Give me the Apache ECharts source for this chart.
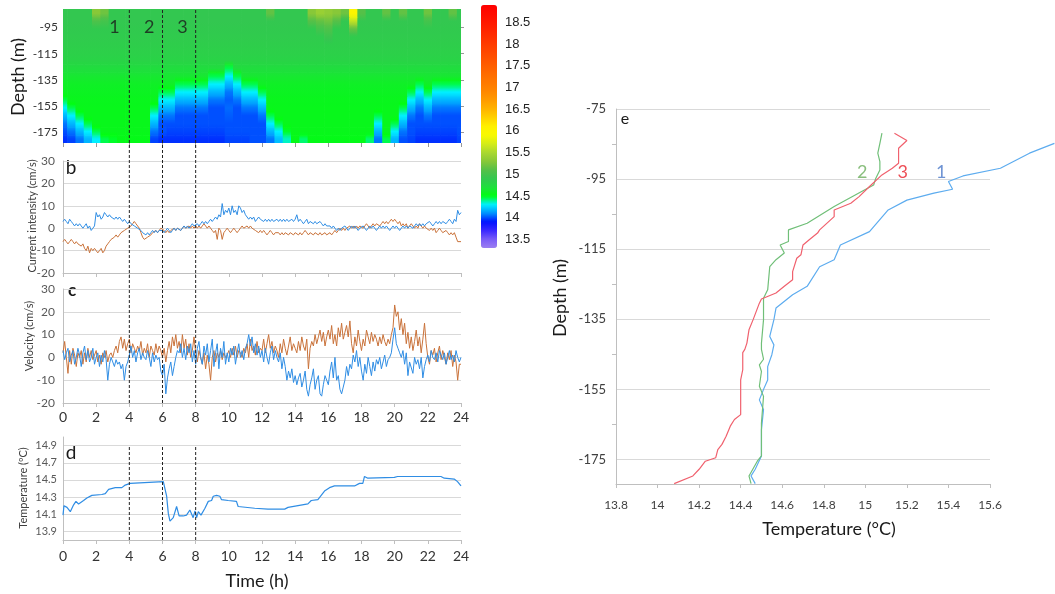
<!DOCTYPE html>
<html><head><meta charset="utf-8">
<script src="https://cdn.jsdelivr.net/npm/echarts@6/dist/echarts.min.js"></script>
<style>html,body{margin:0;padding:0;background:#fff}#c{width:1055px;height:594px}</style>
</head><body><div id="c"></div>
<script>
// ---------- Panel a: temperature section (heatmap) ----------
const heatTimes = [0,0.5,1,1.5,2,2.5,3,3.5,4,4.5,5,5.5,6,6.5,7,7.5,8,8.5,9,9.5,10,10.5,11,11.5,12,12.5,13,13.5,14,14.5,15,15.5,16,16.5,17,17.5,18,18.5,19,19.5,20,20.5,21,21.5,22,22.5,23,23.5,24];
const heatDepths = [-180,-174,-168,-162,-156,-150,-144,-138,-132,-126,-120,-114,-108,-102,-96,-90,-84];
const heatTemp = [
 [13.95,13.98,14.06,14.18,14.3,14.45,14.48,14.53,14.53,14.53, 14.53,13.98,13.95,13.95,13.95,13.95,13.95,13.95,13.95,13.95, 13.98,13.98,13.98,14.0,14.0,14.06,14.2,14.35,14.53,14.42, 14.53,14.53,14.53,14.53,14.53,14.53,14.53,14.42,14.06,14.45, 14.18,14.0,13.98,13.95,13.95,13.95,13.95,13.95,13.98],
 [14.0,14.06,14.18,14.3,14.45,14.55,14.55,14.55,14.55,14.55, 14.55,14.06,14.0,13.98,13.98,13.98,13.98,13.98,13.98,13.98, 14.0,14.0,14.0,14.0,14.0,14.18,14.3,14.48,14.55,14.55, 14.55,14.55,14.55,14.55,14.55,14.55,14.55,14.55,14.18,14.55, 14.3,14.06,14.0,13.98,13.98,13.98,13.98,13.98,14.0],
 [14.06,14.18,14.3,14.45,14.55,14.55,14.55,14.55,14.55,14.55, 14.55,14.18,14.0,14.0,14.0,14.0,14.0,14.0,14.0,14.0, 14.0,14.0,14.0,14.0,14.0,14.3,14.45,14.55,14.55,14.55, 14.55,14.55,14.55,14.55,14.55,14.55,14.55,14.55,14.3,14.55, 14.45,14.18,14.0,14.0,14.0,14.0,14.0,14.0,14.0],
 [14.18,14.3,14.45,14.55,14.55,14.55,14.55,14.55,14.55,14.55, 14.55,14.3,14.06,14.06,14.0,14.0,14.0,14.0,14.0,14.0, 14.02,14.0,14.0,14.0,14.06,14.45,14.55,14.55,14.55,14.55, 14.55,14.55,14.55,14.55,14.55,14.55,14.55,14.55,14.45,14.55, 14.55,14.3,14.06,14.0,14.06,14.0,14.0,14.0,14.0],
 [14.3,14.45,14.55,14.55,14.55,14.55,14.55,14.55,14.55,14.55, 14.55,14.45,14.18,14.18,14.06,14.06,14.06,14.06,14.0,14.0, 14.04,14.0,14.06,14.06,14.18,14.55,14.55,14.55,14.55,14.55, 14.55,14.55,14.55,14.55,14.55,14.55,14.55,14.55,14.55,14.55, 14.55,14.45,14.18,14.06,14.18,14.06,14.06,14.06,14.06],
 [14.45,14.56,14.56,14.56,14.56,14.56,14.56,14.56,14.56,14.56, 14.56,14.56,14.3,14.3,14.18,14.18,14.18,14.18,14.06,14.06, 14.02,14.06,14.18,14.18,14.3,14.56,14.56,14.56,14.56,14.56, 14.56,14.56,14.56,14.56,14.56,14.56,14.56,14.56,14.56,14.56, 14.56,14.56,14.3,14.18,14.3,14.18,14.18,14.18,14.18],
 [14.58,14.58,14.58,14.58,14.58,14.58,14.58,14.58,14.58,14.58, 14.58,14.58,14.45,14.45,14.3,14.3,14.3,14.3,14.18,14.18, 14.06,14.18,14.3,14.3,14.45,14.58,14.58,14.58,14.58,14.58, 14.58,14.58,14.58,14.58,14.58,14.58,14.58,14.58,14.58,14.58, 14.58,14.58,14.45,14.3,14.45,14.3,14.3,14.3,14.3],
 [14.6,14.6,14.6,14.6,14.6,14.6,14.6,14.6,14.6,14.6, 14.6,14.6,14.6,14.6,14.45,14.45,14.45,14.45,14.3,14.3, 14.18,14.3,14.45,14.45,14.6,14.6,14.6,14.6,14.6,14.6, 14.6,14.6,14.6,14.6,14.6,14.6,14.6,14.6,14.6,14.6, 14.6,14.6,14.6,14.45,14.6,14.45,14.45,14.45,14.45],
 [14.65,14.65,14.65,14.65,14.65,14.65,14.65,14.65,14.65,14.65, 14.65,14.65,14.65,14.65,14.65,14.65,14.65,14.65,14.45,14.45, 14.3,14.45,14.65,14.65,14.65,14.65,14.65,14.65,14.65,14.65, 14.65,14.65,14.65,14.65,14.65,14.65,14.65,14.65,14.65,14.65, 14.65,14.65,14.65,14.65,14.65,14.65,14.65,14.65,14.65],
 [14.72,14.72,14.72,14.72,14.72,14.72,14.72,14.72,14.72,14.72, 14.72,14.72,14.72,14.72,14.72,14.72,14.72,14.72,14.72,14.72, 14.45,14.72,14.72,14.72,14.72,14.72,14.72,14.72,14.72,14.72, 14.72,14.72,14.72,14.72,14.72,14.72,14.72,14.72,14.72,14.72, 14.72,14.72,14.72,14.72,14.72,14.72,14.72,14.72,14.72],
 [14.8,14.8,14.8,14.8,14.8,14.8,14.8,14.8,14.8,14.8, 14.8,14.8,14.8,14.8,14.8,14.8,14.8,14.8,14.8,14.8, 14.8,14.8,14.8,14.8,14.8,14.8,14.8,14.8,14.8,14.8, 14.8,14.8,14.8,14.8,14.8,14.8,14.8,14.8,14.8,14.8, 14.8,14.8,14.8,14.8,14.8,14.8,14.8,14.8,14.8],
 [14.83,14.83,14.83,14.83,14.83,14.83,14.83,14.83,14.83,14.83, 14.83,14.83,14.83,14.83,14.83,14.83,14.83,14.83,14.83,14.83, 14.83,14.83,14.83,14.83,14.83,14.83,14.83,14.83,14.83,14.83, 14.83,14.83,14.83,14.83,14.83,14.83,14.83,14.83,14.83,14.83, 14.83,14.83,14.83,14.83,14.83,14.83,14.83,14.83,14.83],
 [14.85,14.85,14.85,14.85,14.85,14.85,14.85,14.85,14.85,14.85, 14.85,14.85,14.85,14.85,14.85,14.85,14.85,14.85,14.85,14.85, 14.85,14.85,14.85,14.85,14.85,14.85,14.85,14.85,14.85,14.85, 14.85,14.85,14.85,14.85,14.85,14.85,14.85,14.85,14.85,14.85, 14.85,14.85,14.85,14.85,14.85,14.85,14.85,14.85,14.85],
 [14.87,14.87,14.87,14.87,14.87,14.87,14.87,14.87,14.87,14.87, 14.87,14.87,14.87,14.87,14.87,14.87,14.87,14.87,14.87,14.87, 14.87,14.87,14.87,14.87,14.87,14.87,14.87,14.87,14.87,14.87, 14.87,14.87,14.95,14.87,14.87,14.87,14.87,14.87,14.87,14.87, 14.87,14.87,14.87,14.87,14.87,14.87,14.87,14.87,14.87],
 [14.88,14.88,14.88,14.88,14.88,14.88,14.88,14.88,14.88,14.88, 14.88,14.88,14.88,14.88,14.88,14.88,14.88,14.88,14.88,14.88, 14.88,14.88,14.88,14.88,14.88,14.88,14.88,14.88,14.88,14.88, 14.88,15.0,15.05,14.88,14.88,15.15,14.88,14.88,14.88,14.88, 14.88,14.88,14.88,14.88,14.88,14.88,14.88,14.88,14.88],
 [14.9,14.9,14.9,14.9,15.05,15.0,14.9,14.9,14.9,14.9, 14.9,14.9,14.9,14.9,14.9,14.9,14.9,14.9,14.9,14.9, 14.9,14.9,14.9,14.9,14.9,14.9,14.9,14.9,14.9,14.9, 15.1,15.15,15.2,15.1,14.9,15.6,14.9,14.9,14.9,14.9, 14.9,14.9,14.9,14.9,15.0,14.9,14.9,14.9,14.9],
 [14.9,14.9,14.9,14.9,15.3,15.2,14.9,14.9,14.9,14.9, 14.9,14.9,14.9,14.9,14.9,14.9,14.9,14.9,14.9,14.9, 14.9,14.9,14.9,14.9,14.9,15.15,14.9,14.9,14.9,14.9, 15.3,15.4,15.35,15.3,15.2,16.0,15.1,14.9,14.9,15.15, 14.9,15.15,14.9,14.9,15.2,14.9,14.9,15.15,14.9]
];
const colorbarTicks = [13.5,14,14.5,15,15.5,16,16.5,17,17.5,18,18.5];
const depthTicksA = [-175,-155,-135,-115,-95];
const sectionLabelTimes = [3.1,5.2,7.2];
const sectionLabelDepth = [-94.5,-94.5,-94.5];
const sectionLabelText = ['1','2','3'];
const dashTimes = [4,6,8];

// ---------- Panels b, c: sampled every 0.1 h ----------
const sampleStep = 0.1;
const bBlue = [3,4,3,2,4,3,2,1,2,1, 2,1,0,1,2,0,1,-1,0,1, 7,5,6,4,5,7,6,5,6,5, 5,4,5,4,5,4,3,4,3,2,
 3,2,2,1,1,0,0,-1,-2,-2, -3,-2,-3,-2,-1,-2,-1,-2,-1,-1, -1,-2,-1,0,-1,-2,-1,0,-1,0, 0,-1,0,1,0,1,0,1,2,1,
 1,2,1,2,3,2,3,2,3,4, 3,4,5,4,6,5,11,6,8,7, 9,6,10,7,8,6,10,9,7,8, 6,5,4,5,4,5,3,4,5,4,
 4,3,4,3,4,3,4,3,3,4, 3,4,3,4,3,4,3,3,4,3, 4,6,3,4,3,2,3,4,2,3, 3,2,3,2,2,3,2,1,2,1,
 1,1,0,1,0,-1,0,-1,0,0, 1,0,-1,0,1,0,1,0,-1,0, 0,1,0,-1,0,1,0,1,0,-1, 0,1,0,1,0,1,0,-1,0,1,
 0,1,0,-1,0,1,0,1,0,1, 1,0,1,2,1,2,1,2,1,2, 2,3,2,1,2,3,2,3,2,3, 3,2,3,4,3,2,4,3,8,6, 7];
const bOrange = [-6,-5,-6,-7,-6,-5,-6,-7,-6,-7, -7,-8,-7,-9,-10,-8,-11,-9,-10,-9, -10,-11,-10,-9,-11,-10,-8,-7,-6,-5, -5,-4,-3,-4,-3,-2,-2,-1,-1,0,
 0,1,2,3,2,1,0,-2,-4,-5, -5,-4,-4,-3,-2,-2,-1,-2,-1,0, 0,-1,-2,-1,-2,-1,-1,0,-1,0, 0,-1,0,1,0,0,1,0,1,0,
 1,0,1,0,1,2,1,0,1,0, -1,-2,-1,-5,0,-1,-5,-2,-1,0, -1,-2,-1,0,-1,-2,-1,0,1,0, 0,1,0,1,0,0,-1,-1,-2,-1,
 -2,-1,-2,-3,-2,-1,-2,-3,-2,-2, -2,-3,-2,-3,-2,-2,-3,-2,-2,-3, -2,-2,-3,-2,-3,-2,-1,-2,-3,-2, -2,-3,-2,-2,-3,-2,-3,-3,-2,-3,
 -3,-2,-3,-2,-1,-2,-1,0,-1,0, -1,0,0,1,0,1,0,1,0,1, 1,0,1,2,1,0,1,2,1,2, 2,1,2,3,2,3,2,3,4,3,
 4,3,2,3,1,2,1,2,0,1, 2,1,0,1,0,2,1,0,1,0, 0,-1,0,-1,0,-2,-1,0,-1,-2, -2,-1,-2,-3,-2,-3,-2,-4,-6,-6, -6];
const cBlue = [3,-1,2,4,-2,1,3,-3,0,4, 1,-4,2,5,-1,3,-2,0,4,-3, 0,2,-4,1,-2,3,-1,-10,-3,0, -2,-4,-1,-3,-2,-5,-3,-10,-4,-2,
 1,5,0,3,-2,2,4,-1,2,0, -1,3,0,-4,2,-2,1,-1,0,-6, -8,-3,-16,-9,-5,-2,-8,-4,0,3, 2,6,0,4,-1,5,2,6,-2,3,
 -3,4,7,0,-3,5,1,6,-2,3, 8,-4,2,6,-5,4,0,7,-3,2, -2,4,1,5,-3,2,6,0,3,-1, 4,6,10,5,9,2,6,1,5,0,
 3,-2,4,0,-3,2,5,-1,3,0, -2,2,-5,0,-4,-10,-6,-9,-5,-11, -8,-12,-9,-7,-13,-10,-6,-14,-17,-12, -9,-5,-14,-10,-8,-16,-17,-12,-8,-10,
 -12,-6,-2,-9,0,-10,-8,-14,-16,-13, -10,-4,-8,-3,-5,1,-2,3,-4,0, -6,-10,-3,-7,0,-4,-8,-2,-6,-1, -3,0,-5,-2,1,-4,-1,0,2,8,
 13,6,4,2,0,3,-3,2,-8,-2, -2,-7,0,-3,-1,-5,0,-9,-4,-1, 1,-2,3,0,-1,2,-2,3,1,-1, 2,-3,0,3,-1,1,-2,3,0,-2, 0];
const cOrange = [2,7,0,-7,3,-3,4,1,-4,2, 0,3,-3,2,-2,4,0,3,-1,1, 3,-2,1,-3,2,0,3,-2,1,2, 0,3,5,2,7,9,4,8,3,6,
 8,2,6,4,2,5,3,7,1,4, 2,6,0,5,3,1,6,2,5,3, 0,4,-2,3,7,2,9,5,10,4, 7,2,10,4,8,1,6,0,3,9,
 2,-2,3,0,-3,2,-5,1,-3,-10, 0,3,-2,2,0,3,-1,2,0,1, 3,0,4,1,5,0,3,2,0,4, 2,6,0,8,3,5,1,7,2,4,
 3,8,2,6,10,4,7,2,5,3, 0,6,2,8,4,1,5,9,3,6, 4,2,7,3,9,5,3,8,-5,4, 7,5,10,6,9,12,7,11,5,9,
 12,8,14,6,10,5,13,9,15,8, 11,14,9,16,6,2,9,5,12,7, 3,8,5,12,9,6,11,7,10,8, 5,9,6,10,7,5,8,6,10,13,
 23,18,20,12,17,10,15,6,11,4, 9,3,7,12,5,9,2,8,15,6, 0,-3,3,1,4,-2,2,5,-1,3, 0,-3,2,-1,3,-4,1,-2,-10,-3, -3];

// ---------- Panel d: temperature time series ----------
const dTime = [0,0.06,0.24,0.44,0.64,0.78,0.94,1.24,1.44,1.74,2.34,2.55,2.75,3.15,3.55,3.75,4.05,4.15,6.05,6.15,6.25,6.35,6.45,6.55,6.65,6.85,6.91,7.0,7.25,7.45,7.65,7.75,7.85,7.96,8.06,8.16,8.32,8.56,8.76,8.96,9.06,9.26,9.46,9.56,9.96,10.46,10.56,11.56,12.36,13.37,13.57,14.17,14.77,14.97,15.37,15.57,15.77,16.07,16.37,17.58,17.88,18.08,18.18,18.38,19.98,20.18,22.79,22.99,23.59,23.79,24];
const dTemp = [14.09,14.20,14.18,14.13,14.21,14.25,14.22,14.26,14.29,14.32,14.33,14.34,14.39,14.41,14.41,14.44,14.46,14.48,14.48,14.46,14.31,14.11,14.02,14.00,14.06,14.19,14.20,14.08,14.08,14.09,14.15,14.17,14.06,14.14,14.06,14.13,14.09,14.17,14.25,14.26,14.31,14.32,14.31,14.27,14.26,14.25,14.19,14.17,14.16,14.16,14.18,14.20,14.22,14.26,14.27,14.32,14.37,14.41,14.43,14.43,14.46,14.46,14.54,14.52,14.53,14.54,14.54,14.52,14.51,14.48,14.43];
const dTicks = [13.9,14.1,14.3,14.5,14.7,14.9];

// ---------- Panel e: profiles ----------
const p1Temp = [15.91,15.79,15.65,15.47,15.40,15.42,15.33,15.20,15.11,15.02,14.88,14.85,14.78,14.72,14.65,14.57,14.56,14.54,14.56,14.55,14.53,14.53,14.51,14.49,14.51,14.50,14.50,14.47,14.45,14.47];
const p1Depth = [-84.8,-87.6,-91.9,-94.1,-95.7,-97.9,-99.0,-101.0,-103.8,-110.0,-113.8,-118.0,-120.0,-125.6,-128.0,-131.8,-135.1,-139.9,-142.3,-145.1,-148.5,-152.3,-155.0,-158.0,-160.8,-166.5,-174.0,-177.8,-179.7,-181.9];
const p2Temp = [15.08,15.07,15.06,15.07,15.07,15.05,15.04,14.98,14.85,14.72,14.63,14.63,14.59,14.61,14.57,14.54,14.53,14.51,14.51,14.50,14.50,14.51,14.49,14.50,14.49,14.51,14.50,14.50,14.48,14.44,14.45];
const p2Depth = [-81.9,-84.8,-87.6,-90.0,-92.4,-94.8,-96.7,-98.6,-102.8,-107.6,-109.5,-112.8,-113.8,-116.1,-118.0,-120.0,-126.6,-129.0,-135.1,-141.8,-143.6,-146.4,-148.0,-149.9,-154.1,-157.0,-164.6,-174.0,-175.5,-179.7,-181.9];
const p3Temp = [15.14,15.20,15.16,15.16,15.13,15.08,15.02,14.97,14.93,14.85,14.85,14.78,14.77,14.73,14.70,14.69,14.67,14.65,14.65,14.61,14.57,14.50,14.49,14.46,14.44,14.43,14.42,14.41,14.41,14.40,14.40,14.40,14.37,14.35,14.33,14.31,14.29,14.28,14.23,14.20,14.17,14.08];
const p3Depth = [-81.9,-84.0,-86.2,-90.5,-91.9,-93.8,-97.1,-100.0,-101.9,-103.8,-105.7,-109.5,-110.4,-112.3,-113.8,-116.6,-117.6,-121.4,-123.7,-125.6,-127.5,-129.2,-130.4,-135.1,-138.0,-141.8,-143.6,-144.5,-149.4,-152.3,-157.0,-162.2,-163.6,-165.5,-168.4,-170.7,-172.2,-174.5,-175.5,-177.8,-179.7,-181.9];
const eDepthTicks = [-175,-155,-135,-115,-95,-75];
const eMinorTicks = [-165,-145,-125,-105,-85];
const eLabelTemp = [15.365,14.985,15.18];
const eLabelDepth = [-92.9,-92.9,-92.9];
const eLabelText = ['1','2','3'];

// ---------- styles ----------
const heatColors = ['#9b7ff2','#7a5cf7','#3a28ff','#0010ff','#0090ff','#00f0ff','#00ff10','#1ee03c','#33c750','#55c048','#88c838','#aad830','#d4ec18','#f8fa00','#fff000','#ffd200','#ffb400','#ff9c00','#ff8800','#ff7a00','#ff6c00','#ff5e00','#ff5000','#ff4200','#ff3400','#ff2600','#ff1800','#ff0c00','#ff0000'];
const CMIN = 13.3, CMAX = 18.9;
const BLUE = '#2f8de4', ORANGE = '#c9723a';
const E_COLORS = ['#5dacef','#70bf78','#f0616e'];
const LABEL_COLORS = ['#4a78c8','#6cae5c','#e8202a'];
const AX = '#bfbfbf', GRID = '#d9d9d9';
const INVISIBLE = 'rgba(0,0,0,0)';

// colour lookup on the same palette (used only to shade cell edges smoothly)
const heatRgb = heatColors.map(h => [parseInt(h.slice(1,3),16), parseInt(h.slice(3,5),16), parseInt(h.slice(5,7),16)]);
function paletteColor(v) {
  let f = (v - CMIN) / (CMAX - CMIN) * (heatRgb.length - 1);
  f = Math.max(0, Math.min(heatRgb.length - 1, f));
  const i = Math.min(heatRgb.length - 2, Math.floor(f)), k = f - i;
  const a = heatRgb[i], b = heatRgb[i + 1];
  return 'rgb(' + [0,1,2].map(j => Math.round(a[j] + (b[j] - a[j]) * k)).join(',') + ')';
}

const heatData = [];
heatDepths.forEach((d, r) => heatTimes.forEach((t, c) => heatData.push([t, d, heatTemp[r][c], r, c])));
const cellHalfW = 0.25, cellHalfH = 3;
const seq = arr => arr.map((v, i) => [Math.round(i * sampleStep * 10) / 10, v]);
const zip = (xs, ys) => xs.map((x, i) => [x, ys[i]]);

const chart = echarts.init(document.getElementById('c'), null, {renderer: 'canvas'});
const lineBase = {type: 'line', symbol: 'none', showSymbol: false, silent: true, animation: false};

const series = [
  {type: 'custom', coordinateSystem: 'cartesian2d', xAxisIndex: 0, yAxisIndex: 0, silent: true,
   encode: {x: 0, y: 1}, data: heatData,
   renderItem: function (params, api) {
     const t = api.value(0), d = api.value(1), v = api.value(2), r = api.value(3), c = api.value(4);
     const p0 = api.coord([t - cellHalfW, d + cellHalfH]);
     const p1 = api.coord([t + cellHalfW, d - cellHalfH]);
     const cs = params.coordSys;
     const rect = echarts.graphic.clipRectByRect(
       {x: p0[0], y: p0[1], width: p1[0] - p0[0] + 0.7, height: p1[1] - p0[1] + 0.7},
       {x: cs.x, y: cs.y, width: cs.width, height: cs.height});
     if (!rect) return;
     const vUp = r + 1 < heatTemp.length ? (heatTemp[r + 1][c] + v) / 2 : v;
     const vDn = r > 0 ? (heatTemp[r - 1][c] + v) / 2 : v;
     const fill = new echarts.graphic.LinearGradient(0, 0, 0, 1, [
       {offset: 0, color: paletteColor(vUp)},
       {offset: 0.5, color: api.visual('color')},
       {offset: 1, color: paletteColor(vDn)}]);
     return {type: 'rect', shape: rect, style: {fill: fill}};
   }},
  Object.assign({}, lineBase, {xAxisIndex: 1, yAxisIndex: 2, data: seq(bOrange), lineStyle: {color: ORANGE, width: 1}}),
  Object.assign({}, lineBase, {xAxisIndex: 1, yAxisIndex: 2, data: seq(bBlue), lineStyle: {color: BLUE, width: 1}}),
  Object.assign({}, lineBase, {xAxisIndex: 2, yAxisIndex: 3, data: seq(cOrange), lineStyle: {color: ORANGE, width: 1}}),
  Object.assign({}, lineBase, {xAxisIndex: 2, yAxisIndex: 3, data: seq(cBlue), lineStyle: {color: BLUE, width: 1}}),
  Object.assign({}, lineBase, {xAxisIndex: 3, yAxisIndex: 4, data: zip(dTime, dTemp), lineStyle: {color: BLUE, width: 1.2}}),
  Object.assign({}, lineBase, {xAxisIndex: 7, yAxisIndex: 9, data: zip(p1Temp, p1Depth), lineStyle: {color: E_COLORS[0], width: 1.2}}),
  Object.assign({}, lineBase, {xAxisIndex: 7, yAxisIndex: 9, data: zip(p2Temp, p2Depth), lineStyle: {color: E_COLORS[1], width: 1.2}}),
  Object.assign({}, lineBase, {xAxisIndex: 7, yAxisIndex: 9, data: zip(p3Temp, p3Depth), lineStyle: {color: E_COLORS[2], width: 1.2}}),
  {type: 'scatter', xAxisIndex: 7, yAxisIndex: 9, silent: true, symbolSize: 2, z: 6, itemStyle: {color: INVISIBLE},
   data: eLabelTemp.map((t, i) => ({value: [t, eLabelDepth[i]], label: {show: true, formatter: eLabelText[i], color: LABEL_COLORS[i]}})),
   label: {position: 'inside', fontSize: 18, fontFamily: 'Lato'}},
  {type: 'scatter', xAxisIndex: 0, yAxisIndex: 0, silent: true, symbolSize: 2, itemStyle: {color: INVISIBLE}, z: 6,
   data: sectionLabelTimes.map((t, i) => ({value: [t, sectionLabelDepth[i]], label: {show: true, formatter: sectionLabelText[i], color: '#1a1a1a'}})),
   label: {position: 'inside', fontSize: 18, fontFamily: 'Lato'}}
];
dashTimes.forEach(t => {
  series.push(Object.assign({}, lineBase, {xAxisIndex: 5, yAxisIndex: 7, z: 6, data: [[t, 0], [t, 1]], lineStyle: {color: '#222', width: 1, type: [3, 2]}}));
  series.push(Object.assign({}, lineBase, {xAxisIndex: 3, yAxisIndex: 4, z: 6, data: [[t, 13.8], [t, dTicks[dTicks.length - 1]]], lineStyle: {color: '#222', width: 1, type: [3, 2]}}));
});

const timeAxis = (gi, extra) => Object.assign({
  gridIndex: gi, type: 'value', min: 0, max: 24, interval: 2,
  axisLine: {show: true, onZero: false, lineStyle: {color: AX}},
  axisTick: {show: true, length: 4, lineStyle: {color: AX}},
  axisLabel: {show: false}, splitLine: {show: false}
}, extra);

// panel e: the plotted frame spans 13.8-15.6 over 374 px; the profile layer uses the same scale
// but is widened to the page edge so the warm upper part of profile 1 is not cut off.
const E_LEFT = 616, E_WIDTH = 374, E_LAYER_WIDTH = 439, E_XMIN = 13.8, E_XMAX = 15.6;

const option = {
  animation: false,
  textStyle: {fontFamily: 'Lato'},
  grid: [
    {left: 63, top: 9, width: 398, height: 134},
    {left: 63, top: 161, width: 398, height: 112},
    {left: 63, top: 289, width: 398, height: 114},
    {left: 63, top: 437, width: 398, height: 103},
    {left: E_LEFT, top: 109, width: E_WIDTH, height: 375},
    {left: 63, top: 9, width: 398, height: 394},
    {left: 481, top: 5, width: 16, height: 243},
    {left: E_LEFT, top: 109, width: E_LAYER_WIDTH, height: 375}
  ],
  xAxis: [
    timeAxis(0, {axisLine: {show: false}, axisTick: {show: true, length: 4, lineStyle: {color: '#999'}}}),
    timeAxis(1),
    timeAxis(2, {axisLabel: {show: true, fontSize: 14, color: '#333', margin: 7}}),
    timeAxis(3, {axisLabel: {show: true, fontSize: 14, color: '#333', margin: 9}}),
    {gridIndex: 4, type: 'value', min: E_XMIN, max: E_XMAX, interval: 0.2,
     axisLine: {show: true, onZero: false, lineStyle: {color: AX}},
     axisTick: {show: true, length: 4, lineStyle: {color: AX}},
     axisLabel: {fontSize: 12, color: '#404040', margin: 15}, splitLine: {show: false}},
    {gridIndex: 5, type: 'value', min: 0, max: 24, show: false},
    {gridIndex: 6, type: 'value', min: 0, max: 1, show: false},
    {gridIndex: 7, type: 'value', min: E_XMIN, max: E_XMIN + (E_XMAX - E_XMIN) * E_LAYER_WIDTH / E_WIDTH, show: false}
  ],
  yAxis: [
    {gridIndex: 0, type: 'value', min: -183, max: -81,
     axisLine: {show: false}, axisTick: {show: false, customValues: depthTicksA},
     axisLabel: {customValues: depthTicksA, fontSize: 12, color: '#333', margin: 5}, splitLine: {show: false}},
    {gridIndex: 0, type: 'value', position: 'right', min: -183, max: -81,
     axisLine: {show: false}, axisTick: {show: true, customValues: depthTicksA, length: 3, lineStyle: {color: '#999'}},
     axisLabel: {show: false}, splitLine: {show: false}},
    {gridIndex: 1, type: 'value', min: -20, max: 30, interval: 10,
     axisLine: {show: true, lineStyle: {color: AX}}, axisTick: {show: false},
     axisLabel: {fontSize: 12, color: '#595959', margin: 8}, splitLine: {lineStyle: {color: GRID}}},
    {gridIndex: 2, type: 'value', min: -20, max: 30, interval: 10,
     axisLine: {show: true, lineStyle: {color: AX}}, axisTick: {show: false},
     axisLabel: {fontSize: 12, color: '#595959', margin: 8}, splitLine: {lineStyle: {color: GRID}}},
    {gridIndex: 3, type: 'value', min: 13.8, max: 15.0,
     axisLine: {show: true, lineStyle: {color: AX}}, axisTick: {show: false, customValues: dTicks},
     axisLabel: {customValues: dTicks, fontSize: 11, color: '#595959', margin: 6}, splitLine: {lineStyle: {color: GRID}}},
    {gridIndex: 4, type: 'value', min: -182, max: -75,
     axisLine: {show: true, lineStyle: {color: AX}}, axisTick: {show: false, customValues: eDepthTicks},
     axisLabel: {customValues: eDepthTicks, fontSize: 13, color: '#404040', margin: 10}, splitLine: {lineStyle: {color: GRID}}},
    {gridIndex: 4, type: 'value', position: 'left', min: -182, max: -75,
     axisLine: {show: false}, axisTick: {show: true, customValues: eMinorTicks, length: 4, lineStyle: {color: AX}},
     axisLabel: {show: false}, splitLine: {show: false}},
    {gridIndex: 5, type: 'value', min: 0, max: 1, show: false},
    {gridIndex: 6, type: 'value', position: 'right', min: CMIN, max: CMAX,
     axisLine: {show: false}, axisTick: {show: false, customValues: colorbarTicks},
     axisLabel: {customValues: colorbarTicks, fontFamily: 'Liberation Sans', fontSize: 13, color: '#222', margin: 8},
     splitLine: {show: false}},
    {gridIndex: 7, type: 'value', min: -182, max: -75, show: false}
  ],
  visualMap: {
    type: 'continuous', min: CMIN, max: CMAX, dimension: 2, seriesIndex: 0,
    calculable: false, hoverLink: false, left: 481, top: 5, itemWidth: 16, itemHeight: 243,
    padding: 0, orient: 'vertical', inRange: {color: heatColors}
  },
  graphic: [
    {type: 'text', x: 73, y: 18, style: {text: 'a', font: '17px Lato', fill: '#1a1a1a', align: 'center', verticalAlign: 'middle'}},
    {type: 'text', x: 71, y: 168, style: {text: 'b', font: '19px Lato', fill: '#1a1a1a', align: 'center', verticalAlign: 'middle'}},
    {type: 'text', x: 72, y: 291, style: {text: 'c', font: 'bold 17px Lato', fill: '#1a1a1a', align: 'center', verticalAlign: 'middle'}},
    {type: 'text', x: 71, y: 453, style: {text: 'd', font: '19px Lato', fill: '#1a1a1a', align: 'center', verticalAlign: 'middle'}},
    {type: 'text', x: 625, y: 119, style: {text: 'e', font: '16px Lato', fill: '#1a1a1a', align: 'center', verticalAlign: 'middle'}},
    {type: 'text', x: 18, y: 77, rotation: Math.PI / 2, style: {text: 'Depth (m)', font: '18px Lato', fill: '#1a1a1a', align: 'center', verticalAlign: 'middle'}},
    {type: 'text', x: 32, y: 216, rotation: Math.PI / 2, style: {text: 'Current intensity (cm/s)', font: '11px Lato', fill: '#404040', align: 'center', verticalAlign: 'middle'}},
    {type: 'text', x: 29, y: 336, rotation: Math.PI / 2, style: {text: 'Velocity (cm/s)', font: '11px Lato', fill: '#404040', align: 'center', verticalAlign: 'middle'}},
    {type: 'text', x: 23, y: 488, rotation: Math.PI / 2, style: {text: 'Temperature (ºC)', font: '11px Lato', fill: '#404040', align: 'center', verticalAlign: 'middle'}},
    {type: 'text', x: 257, y: 581, style: {text: 'Time (h)', font: '18px Lato', fill: '#1a1a1a', align: 'center', verticalAlign: 'middle'}},
    {type: 'text', x: 829, y: 529, style: {text: 'Temperature (°C)', font: '18px Lato', fill: '#1a1a1a', align: 'center', verticalAlign: 'middle'}},
    {type: 'text', x: 560, y: 298, rotation: Math.PI / 2, style: {text: 'Depth (m)', font: '18px Lato', fill: '#1a1a1a', align: 'center', verticalAlign: 'middle'}}
  ],
  series: series
};
chart.setOption(option);
</script></body></html>
